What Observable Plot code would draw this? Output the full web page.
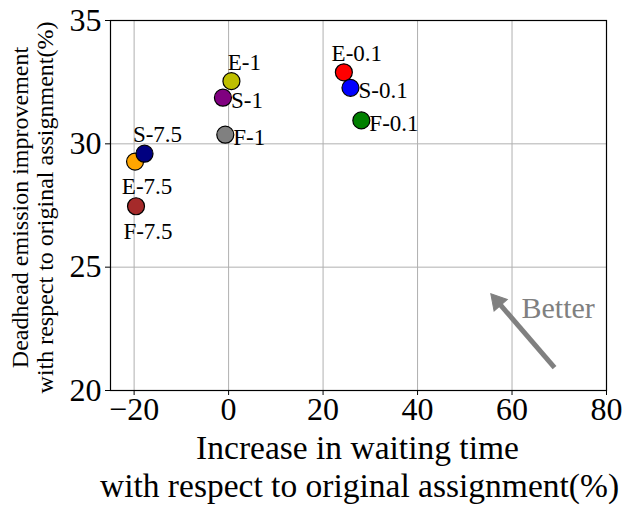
<!DOCTYPE html>
<html><head><meta charset="utf-8">
<script src="https://cdn.jsdelivr.net/npm/d3@7"></script>
<script src="https://cdn.jsdelivr.net/npm/@observablehq/plot@0.6"></script>
<style>body{margin:0;background:#fff}</style>
</head><body><div id="chart"></div>
<script>
const labels = ["E-0.1","S-0.1","F-0.1","E-1","S-1","F-1","E-7.5","S-7.5","F-7.5"];
const waiting = [24.4, 25.8, 28.1, 0.6, -1.2, -0.7, -19.8, -17.8, -19.6];
const emission = [32.9, 32.27, 30.95, 32.54, 31.87, 30.37, 29.28, 29.6, 27.47];
const colors = ["red","blue","green","#bfbf00","purple","gray","orange","navy","brown"];
const xTicks = [-20, 0, 20, 40, 60, 80];
const yTicks = [20, 25, 30, 35];
const arrowTail = [69.0, 20.93], arrowHead = [55.6, 23.9];
const betterText = "Better", betterPos = [62, 23.33];

const W = 633, H = 510, ML = 110, MR = 27, MT = 20, MB = 120;
const xDom = [-25, 80], yDom = [20, 35];
const placement = {"E-0.1":"above","S-0.1":"right","F-0.1":"right","E-1":"above","S-1":"right","F-1":"right","E-7.5":"below","S-7.5":"above","F-7.5":"below"};
const data = labels.map((l,i)=>({label:l, x:waiting[i], y:emission[i], c:colors[i], p:placement[l]}));
const font = "'Liberation Serif','Times New Roman',serif";

// arrow geometry (screen-space direction from data via scale factors)
const kx = (W-ML-MR)/(xDom[1]-xDom[0]), ky = (H-MT-MB)/(yDom[1]-yDom[0]);
const vx = (arrowHead[0]-arrowTail[0])*kx, vy = -(arrowHead[1]-arrowTail[1])*ky;
const len = Math.hypot(vx, vy), ux = vx/len, uy = vy/len;
const headR = 6.5, back = headR*1.45;
const headCenter = [arrowHead[0] - ux*back/kx, arrowHead[1] + uy*back/ky];
const headRot = Math.atan2(ux, -uy)*180/Math.PI;

const plot = Plot.plot({
  width: W, height: H,
  marginLeft: ML, marginRight: MR, marginTop: MT, marginBottom: MB,
  style: {fontFamily: font, background: "#fff"},
  x: {domain: xDom, ticks: xTicks, label: null},
  y: {domain: yDom, ticks: yTicks, label: null},
  marks: [
    Plot.gridX(xTicks, {stroke: "#b0b0b0", strokeOpacity: 1, strokeWidth: 1}),
    Plot.gridY(yTicks, {stroke: "#b0b0b0", strokeOpacity: 1, strokeWidth: 1}),
    Plot.axisX(xTicks, {tickSize: 5, tickPadding: 2, fontSize: 32, stroke: "black", fill: "black"}),
    Plot.axisY(yTicks, {tickSize: 5, tickPadding: 4, fontSize: 32, stroke: "black", fill: "black"}),
    Plot.frame({stroke: "black", strokeWidth: 1.2}),
    Plot.link([0], {x1: ()=>arrowTail[0], y1: ()=>arrowTail[1], x2: ()=>headCenter[0], y2: ()=>headCenter[1], stroke: "gray", strokeWidth: 5}),
    Plot.dot([0], {x: ()=>headCenter[0], y: ()=>headCenter[1], symbol: "triangle", r: headR, fill: "gray", stroke: "gray", strokeWidth: 1, rotate: headRot}),
    Plot.text([betterText], {x: betterPos[0], y: betterPos[1], text: d=>d, textAnchor: "start", fill: "gray", fontSize: 30}),
    Plot.dot(data, {x:"x", y:"y", fill:"c", stroke:"black", r: 8.5, strokeWidth: 1.2}),
    Plot.text(data.filter(d=>d.p==="above"), {x:"x", y:"y", text:"label", dx: 13, dy: -19, fontSize: 23, fill: "black"}),
    Plot.text(data.filter(d=>d.p==="right"), {x:"x", y:"y", text:"label", dx: 8, dy: 3, textAnchor: "start", fontSize: 23, fill: "black"}),
    Plot.text(data.filter(d=>d.p==="below"), {x:"x", y:"y", text:"label", dx: 12, dy: 25, fontSize: 23, fill: "black"}),
    Plot.text(["Increase in waiting time"], {frameAnchor: "bottom", lineAnchor: "middle", textAnchor: "middle", text: d=>d, dy: 58, dx: -1, fontSize: 33.5, fill:"black"}),
    Plot.text(["with respect to original assignment(%)"], {frameAnchor: "bottom", lineAnchor: "middle", textAnchor: "middle", text: d=>d, dy: 96, dx: 1, fontSize: 33.5, fill:"black"}),
    Plot.text(["Deadhead emission improvement"], {frameAnchor: "left", lineAnchor: "middle", textAnchor: "middle", text: d=>d, rotate: -90, dx: -90, dy: 2, fontSize: 24, fill:"black"}),
    Plot.text(["with respect to original assignment(%)"], {frameAnchor: "left", lineAnchor: "middle", textAnchor: "middle", text: d=>d, rotate: -90, dx: -65, dy: 2, fontSize: 24, fill:"black"})
  ]
});
document.getElementById("chart").appendChild(plot);
</script>
</body></html>
